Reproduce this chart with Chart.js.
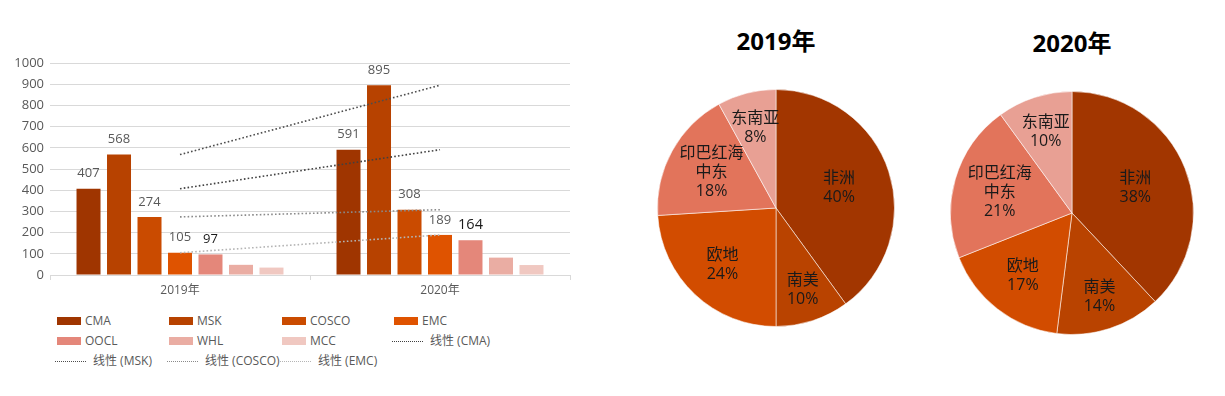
<!DOCTYPE html>
<html><head><meta charset="utf-8">
<script src="https://cdn.jsdelivr.net/npm/chart.js@4.4.1/dist/chart.umd.min.js"></script>
<style>
html,body{margin:0;padding:0;background:#fff;width:1225px;height:396px;overflow:hidden;font-family:"Open Sans","Noto Sans CJK SC",sans-serif;}
.box{position:absolute;}
.title{position:absolute;font-family:"Open Sans","Noto Sans CJK SC",sans-serif;font-weight:bold;font-size:24px;color:#000;transform:translate(-50%,-50%);white-space:nowrap;line-height:1;}
.li{position:absolute;font-size:12px;color:#595959;white-space:nowrap;height:20px;line-height:20px;}
.sw{position:absolute;top:6px;height:8px;}
.ln{position:absolute;top:10px;height:0;}
</style>
</head><body>
<div class="box" style="left:0;top:0;width:600px;height:305px;"><canvas id="bar" width="600" height="305"></canvas></div>
<div id="legend"></div>
<div class="title" id="t1" style="left:776px;top:41px;">2019年</div>
<div class="title" id="t2" style="left:1072px;top:43px;">2020年</div>
<div class="box" style="left:657px;top:89px;width:238px;height:238px;"><canvas id="pie1" width="238" height="238"></canvas></div>
<div class="box" style="left:950px;top:91px;width:244px;height:244px;"><canvas id="pie2" width="244" height="244"></canvas></div>
<script>
// ---- data ----
const categories = ['2019年', '2020年'];
const carriers = ['CMA', 'MSK', 'COSCO', 'EMC', 'OOCL', 'WHL', 'MCC'];
const cmaValues = [407, 591];
const mskValues = [568, 895];
const coscoValues = [274, 308];
const emcValues = [105, 189];
const ooclValues = [97, 164];
const whlValues = [48, 82];
const mccValues = [35, 47];
const trendCarriers = ['CMA', 'MSK', 'COSCO', 'EMC'];
const yTickValues = [0, 100, 200, 300, 400, 500, 600, 700, 800, 900, 1000];
const regions = [['非洲'], ['南美'], ['欧地'], ['印巴红海', '中东'], ['东南亚']];
const pieTitles = ['2019年', '2020年'];
const share2019 = [40, 10, 24, 18, 8];
const share2020 = [38, 14, 17, 21, 10];

// ---- styles ----
const barColors = ['#9f3500', '#b74200', '#ca4b00', '#df5300', '#e4877a', '#eaada3', '#f0c8c1'];
const trendColors = ['#404040', '#4d4d4d', '#8a8a8a', '#b5b5b5'];
const labelColors = ['#595959', '#595959', '#595959', '#595959', '#1a1a1a'];
const labelSizes = [[13, 13], [13, 13], [13, 13], [13, 13], [13, 14.5]];
const pieColors = ['#a23600', '#b94300', '#d24c00', '#e2745b', '#e8a094'];
const FONT = '"Open Sans","Noto Sans CJK SC",sans-serif';

const seriesValues = [cmaValues, mskValues, coscoValues, emcValues, ooclValues, whlValues, mccValues];

const datasets = carriers.map((c, i) => ({
  type: 'bar', label: c, data: seriesValues[i], backgroundColor: barColors[i],
  categoryPercentage: 0.821, barPercentage: 0.787, order: 2,
  showValue: i < 5, labelColor: labelColors[i], labelSize: labelSizes[i]
}));
trendCarriers.forEach((c, i) => {
  const idx = carriers.indexOf(c);
  datasets.push({
    type: 'line', label: '线性 (' + c + ')', data: seriesValues[idx], borderColor: trendColors[i],
    borderWidth: 1.6, borderDash: [1.6, 2.2], pointRadius: 0, fill: false, order: 1, tension: 0
  });
});

const barLabelPlugin = {
  id: 'barLabels',
  afterDatasetsDraw(chart) {
    const ctx = chart.ctx;
    chart.data.datasets.forEach((ds, di) => {
      if (!ds.showValue) return;
      const meta = chart.getDatasetMeta(di);
      meta.data.forEach((el, j) => {
        ctx.save();
        ctx.font = ds.labelSize[j] + 'px ' + FONT;
        ctx.fillStyle = ds.labelColor;
        ctx.textAlign = 'center';
        ctx.textBaseline = 'middle';
        ctx.fillText(String(ds.data[j]), el.x, el.y - 15);
        ctx.restore();
      });
    });
  }
};

new Chart(document.getElementById('bar'), {
  type: 'bar',
  data: { labels: categories, datasets },
  plugins: [barLabelPlugin],
  options: {
    responsive: false, animation: false,
    layout: { padding: { top: 63, right: 30, left: 0, bottom: 0 } },
    plugins: { legend: { display: false }, tooltip: { enabled: false } },
    scales: {
      x: {
        grid: { display: true, drawOnChartArea: false, drawTicks: true, tickLength: 5, color: '#d9d9d9', offset: true },
        border: { display: true, color: '#d9d9d9' },
        ticks: { color: '#595959', font: { size: 12, family: FONT }, padding: 3 },
        afterFit(s) { s.height = 30; }
      },
      y: {
        min: 0, max: 1000,
        afterBuildTicks(s) { s.ticks = yTickValues.map(v => ({ value: v })); },
        grid: { color: '#d9d9d9', drawTicks: false },
        border: { display: false },
        ticks: { color: '#595959', font: { size: 13, family: FONT }, padding: 6, callback: (v) => String(v) },
        afterFit(s) { s.width = 50; }
      }
    }
  }
});

// ---- HTML legend from datasets ----
(function () {
  const lg = document.getElementById('legend');
  const cols = [57, 169, 282, 394];
  const rowsY = [311, 331, 351];
  datasets.forEach((ds, k) => {
    const col = k % 4, row = Math.floor(k / 4);
    const x = cols[col], y = rowsY[row];
    const it = document.createElement('div');
    it.className = 'li';
    it.style.left = '0px'; it.style.top = y + 'px';
    if (ds.type === 'bar') {
      it.innerHTML = '<span class="sw" style="left:' + x + 'px;width:24px;background:' + ds.backgroundColor + '"></span>' +
        '<span style="position:absolute;left:' + (x + 28) + 'px">' + ds.label + '</span>';
    } else {
      it.innerHTML = '<span class="ln" style="left:' + (x - 2) + 'px;width:31px;border-top:1.5px dotted ' + ds.borderColor + '"></span>' +
        '<span style="position:absolute;left:' + (x + 36) + 'px">' + ds.label + '</span>';
    }
    lg.appendChild(it);
  });
})();

// ---- pies ----
const pieLabelPlugin = {
  id: 'pieLabels',
  afterDatasetsDraw(chart, args, opts) {
    const ctx = chart.ctx;
    const meta = chart.getDatasetMeta(0);
    const ds = chart.data.datasets[0];
    ctx.save();
    ctx.font = '16px ' + FONT;
    ctx.fillStyle = '#1a1a1a';
    ctx.textAlign = 'center';
    ctx.textBaseline = 'middle';
    meta.data.forEach((arc, i) => {
      const mid = (arc.startAngle + arc.endAngle) / 2;
      const r = arc.outerRadius * opts.radii[i];
      const x = arc.x + Math.cos(mid) * r, y = arc.y + Math.sin(mid) * r;
      const lines = chart.data.labels[i].concat([ds.data[i] + '%']);
      const lh = 19;
      lines.forEach((t, j) => ctx.fillText(t, x, y + (j - (lines.length - 1) / 2) * lh));
    });
    ctx.restore();
  }
};

function makePie(id, values) {
  new Chart(document.getElementById(id), {
    type: 'pie',
    data: { labels: regions, datasets: [{ data: values, backgroundColor: pieColors, borderColor: 'rgba(255,255,255,0.55)', borderWidth: 1 }] },
    plugins: [pieLabelPlugin],
    options: {
      responsive: false, animation: false,
      layout: { padding: 0 },
      plugins: { legend: { display: false }, tooltip: { enabled: false }, pieLabels: { radii: [0.56, 0.73, 0.66, 0.62, 0.70] } }
    }
  });
}
makePie('pie1', share2019);
makePie('pie2', share2020);
</script>
</body></html>
